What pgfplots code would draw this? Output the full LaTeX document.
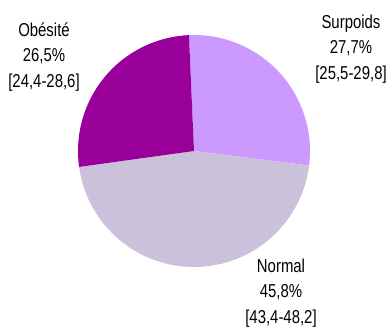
\documentclass[border=0pt]{standalone}
\usepackage{pgfplots}
\usepackage{pgfplotstable}
\pgfplotsset{compat=1.18}
\usepackage{fontspec}
\setmainfont{Liberation Sans}[FakeStretch=0.8]
\definecolor{csurpoids}{HTML}{CC99FF}
\definecolor{cnormal}{HTML}{CCC1DB}
\definecolor{cobesite}{HTML}{990099}
\pgfplotstableread{
label value col
Surpoids 27.7 csurpoids
Normal 45.8 cnormal
Obesite 26.5 cobesite
}\piedata
\begin{document}
\begin{tikzpicture}
\begin{axis}[
  x=0.75pt, y=0.75pt,
  xmin=0, xmax=388, ymin=0, ymax=326,
  hide axis, clip=false, disabledatascaling,
]
\coordinate (ll) at (axis cs:0,0);
\coordinate (ur) at (axis cs:388,326);
\gdef\a{92.5}
\pgfplotsforeachungrouped \i in {0,1,2} {
  \pgfplotstablegetelem{\i}{value}\of\piedata \let\v\pgfplotsretval
  \pgfplotstablegetelem{\i}{col}\of\piedata \let\c\pgfplotsretval
  \pgfmathsetmacro\b{\a-3.6*\v}
  \edef\cmd{\noexpand\fill[\c] (axis cs:194,175) -- ([shift={(\a:116)}]axis cs:194,175) arc[start angle=\a, end angle=\b, radius=116] -- cycle;}
  \cmd
  \global\let\a\b
}
\tikzset{lab/.style={align=center, inner sep=0pt, font=\fontsize{14}{19.2}\selectfont}}
\node[lab] at (axis cs:44,269) {Obésité\\26,5\%\\{[}24,4-28,6{]}};
\node[lab] at (axis cs:351,277) {Surpoids\\27,7\%\\{[}25,5-29,8{]}};
\node[lab] at (axis cs:281,33) {Normal\\45,8\%\\{[}43,4-48,2{]}};
\end{axis}
\pgfresetboundingbox
\path[use as bounding box] (ll) rectangle (ur);
\end{tikzpicture}
\end{document}
